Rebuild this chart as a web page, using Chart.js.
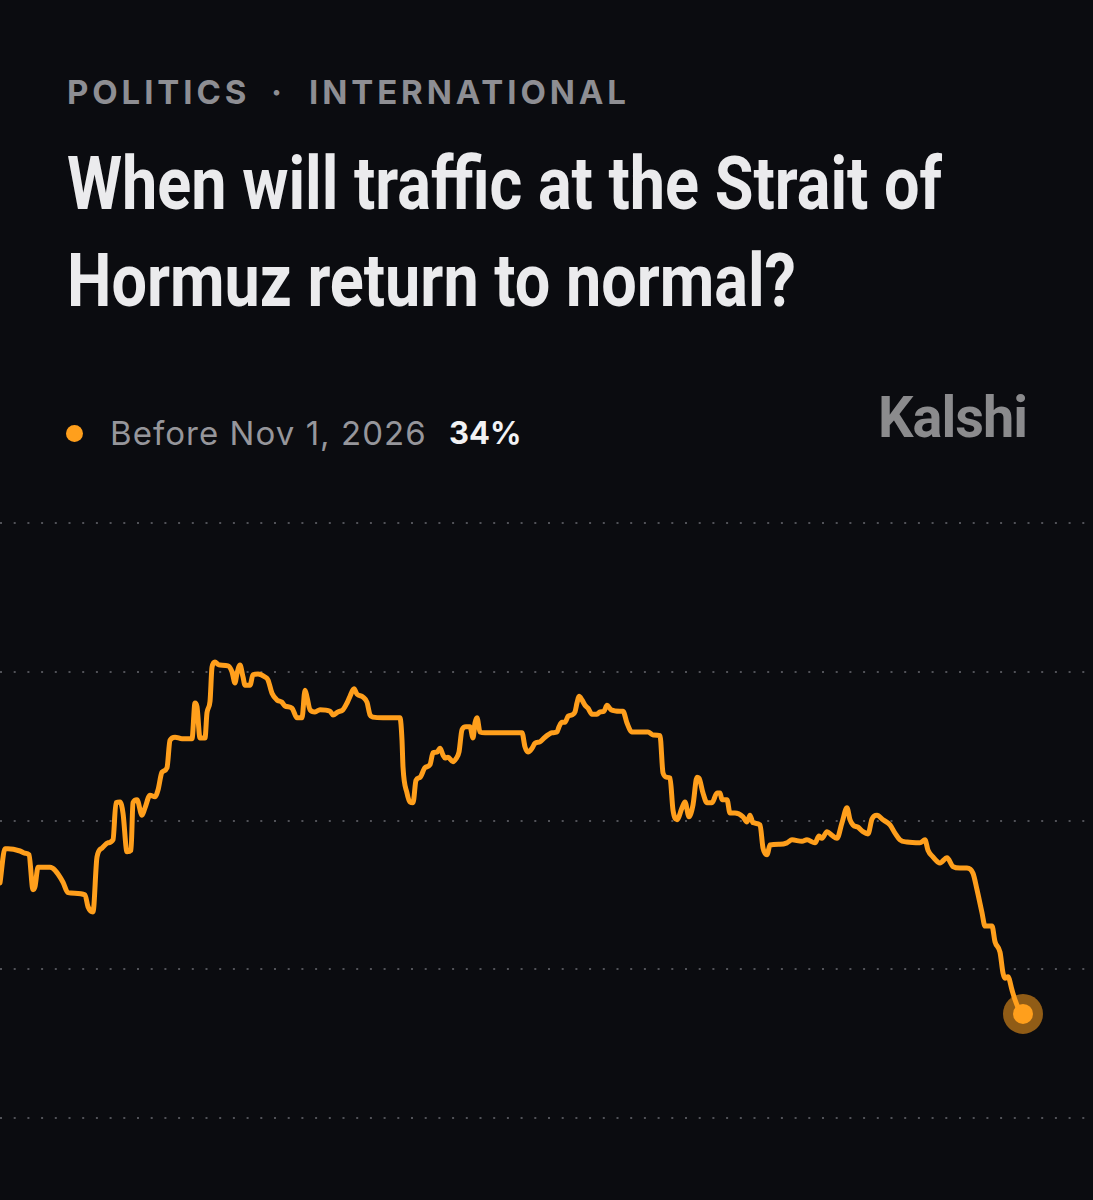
<!DOCTYPE html>
<html><head><meta charset="utf-8">
<script src="https://cdn.jsdelivr.net/npm/chart.js@4.4.1/dist/chart.umd.min.js"></script>
<style>
html,body{margin:0;padding:0;background:#0b0c10;width:1093px;height:1200px;overflow:hidden;}
.t{position:absolute;white-space:nowrap;line-height:1;transform-origin:0 0;}
.cat{top:72px;font:700 33px Inter,'Liberation Sans',sans-serif;letter-spacing:3.9px;color:#8e8e93;}
.title{left:67px;font:700 74px 'Liberation Sans Narrow',Roboto,sans-serif;color:#ebebed;}
#t1{top:140px;}
#t2{top:237px;}
#leg{left:110px;top:413px;font:400 33px Inter,'Liberation Sans',sans-serif;letter-spacing:1.05px;color:#96969b;}
#pct{left:449px;top:414px;font:700 31px Inter,'Liberation Sans',sans-serif;color:#f2f2f4;}
#dot{position:absolute;left:66px;top:425px;width:17px;height:17px;border-radius:50%;background:#ff9f1c;}
#logo{left:878px;top:384px;font:700 57px 'Liberation Sans Narrow',Roboto,sans-serif;color:#8b8b8d;letter-spacing:-1px;}
#wrap{position:absolute;left:0;top:493px;width:1093px;height:655px;}
</style></head>
<body>
<div id="c1" class="t cat" style="left:67px">POLITICS</div>
<div id="c2" class="t cat" style="left:271px">·</div>
<div id="c3" class="t cat" style="left:309px">INTERNATIONAL</div>
<div id="t1" class="t title">When will traffic at the Strait of</div>
<div id="t2" class="t title">Hormuz return to normal?</div>
<div id="dot"></div>
<div id="leg" class="t">Before Nov 1, 2026</div>
<div id="pct" class="t">34%</div>
<div id="logo" class="t">Kalshi</div>
<div id="wrap"><canvas id="c" width="1093" height="655"></canvas></div>
<script>
// time steps (arbitrary units along the x axis) and probability (%) for "Before Nov 1, 2026"
const times = [0,5,8,20,25,29,33,35,38,50,55,63,68,85,88,93,97,102,108,113,116,120,123,127,131,133,137,142,145,150,155,158,162,167,170,175,182,192,195,197,200,205,207,210,212,215,218,220,228,232,235,237,240,243,245,250,253,258,265,268,272,277,282,285,292,297,302,305,307,310,315,320,330,333,338,343,347,350,354,357,363,367,370,373,383,400,402,403,407,410,413,416,420,425,430,433,437,440,443,445,448,453,456,459,462,466,470,473,475,477,480,485,497,522,525,528,532,535,540,545,548,552,557,559,562,565,568,572,575,577,579,582,585,588,592,597,600,604,607,611,620,623,627,632,648,653,660,663,667,670,673,677,682,685,689,693,697,699,703,707,712,717,720,722,727,730,735,743,747,750,753,760,763,767,770,780,787,792,802,807,815,819,822,827,832,837,842,847,850,853,858,863,868,872,877,883,890,895,900,907,920,925,928,933,940,947,953,960,967,973,977,982,985,992,995,1000,1003,1005,1008,1012,1015,1020,1023];
const probs = [51.6,56.2,56.2,55.9,55.6,55.4,50.7,51.1,53.7,53.7,53.3,51.7,50.3,50.0,48.4,47.7,55.1,56.3,57.0,57.4,62.4,62.5,61.0,55.8,56.0,62.4,62.8,60.7,61.7,63.4,63.2,64.1,66.5,67.1,70.8,71.2,71.0,71.0,75.8,75.3,71.1,71.1,74.5,76.0,80.6,81.3,81.0,80.9,80.8,80.0,78.5,79.8,80.9,79.3,78.2,78.2,79.6,79.7,79.3,78.9,77.1,76.2,75.9,75.4,75.1,73.8,73.8,77.5,76.6,74.9,74.6,74.9,74.7,74.2,74.6,74.9,75.8,76.7,77.7,77.0,76.6,75.9,74.2,73.9,73.8,73.8,70.8,67.2,63.7,62.5,62.4,65.4,65.8,67.1,67.5,69.1,69.2,69.7,68.8,68.4,68.5,67.9,68.3,69.2,72.2,72.6,72.6,71.1,73.1,73.8,71.9,71.8,71.8,71.8,69.9,69.2,69.7,70.4,70.6,71.2,71.5,71.8,71.9,72.6,73.2,73.2,74.0,74.2,74.6,75.8,76.7,76.2,75.5,75.1,74.3,74.3,74.6,74.7,75.5,74.9,74.7,74.7,73.1,71.9,71.9,71.5,71.4,66.4,65.8,65.7,61.4,60.1,61.7,62.5,60.5,62.1,65.8,65.7,63.7,62.4,62.4,63.7,63.7,62.8,62.8,61.0,61.0,60.5,59.8,60.7,59.7,59.4,56.3,55.4,56.7,56.8,57.0,57.4,57.2,57.4,57.0,57.9,57.6,58.5,58.0,57.6,59.7,61.7,60.1,59.4,59.1,58.5,58.2,60.2,60.7,60.1,59.4,58.3,57.4,57.1,57.0,57.4,56.0,55.1,54.3,55.0,53.8,53.6,53.6,52.9,50.7,47.6,45.8,45.8,43.7,42.3,39.5,38.8,39.0,37.2,35.9,34.3,34.0];
const gridValues = [20,40,60,80,100];
const seriesLabel = 'Before Nov 1, 2026';

// fit condensed text widths
function fit(el, w){ const r = el.getBoundingClientRect().width; el.style.transform = 'scaleX(' + (w / r) + ')'; return w / r; }
const s = fit(document.getElementById('t1'), 875);
document.getElementById('t2').style.transform = 'scaleX(' + s + ')';
fit(document.getElementById('logo'), 149);

const orange = '#ff9f1c';
const pts = times.map((t, i) => ({x: t, y: probs[i]}));
const last = pts.length - 1;
new Chart(document.getElementById('c'), {
  type: 'line',
  data: { datasets: [
    { label: seriesLabel, data: pts, borderColor: orange, borderWidth: 5, cubicInterpolationMode: 'monotone',
      borderJoinStyle: 'round', borderCapStyle: 'round',
      pointRadius: c => c.dataIndex === last ? 10 : 0, pointHoverRadius: 0,
      pointBackgroundColor: orange, pointBorderWidth: 0, order: 1, clip: false },
    { label: 'halo', data: [pts[last]], showLine: false, pointRadius: 20, pointBorderWidth: 0,
      pointBackgroundColor: 'rgba(255,159,28,0.55)', order: 2, clip: false }
  ]},
  options: {
    responsive: false, animation: false, devicePixelRatio: 1,
    layout: { autoPadding: false, padding: { top: 30, bottom: 30, left: 0, right: 0 } },
    plugins: { legend: { display: false }, tooltip: { enabled: false } },
    scales: {
      x: { type: 'linear', min: 0, max: 1093, display: false },
      y: { min: gridValues[0], max: gridValues[gridValues.length - 1],
        afterBuildTicks: ax => { ax.ticks = gridValues.map(v => ({value: v})); },
        ticks: { display: false },
        grid: { color: '#515258', lineWidth: 2, drawTicks: false },
        border: { display: false, dash: [2, 11.7] } }
    }
  }
});
</script>
</body></html>
